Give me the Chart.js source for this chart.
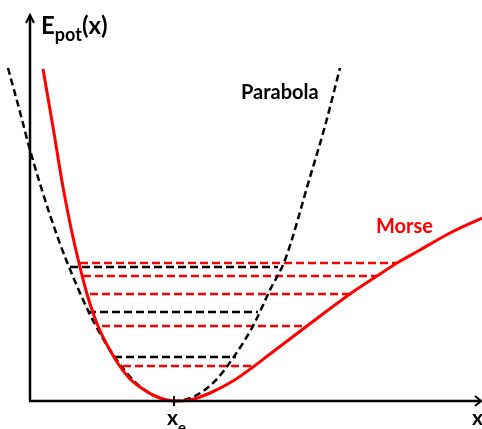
<!doctype html>
<html lang="en">
<head>
<meta charset="utf-8">
<title>Morse potential and harmonic parabola</title>
<style>
  * { margin: 0; padding: 0; }
  body { background: #fff; }
  canvas { display: block; }
</style>
</head>
<body>
<canvas id="myChart" width="482" height="429"></canvas>
<script src="https://cdn.jsdelivr.net/npm/chart.js/dist/chart.umd.min.js"></script>
<script>
// equilibrium distance
const xe = 1.44;

// harmonic potential (black dashed)
const parabolaX = [-0.22, -0.10, 0.00, 0.20, 0.37, 0.68, 1.03, 1.25, 1.44, 1.65, 1.85, 2.03, 2.23, 2.40, 2.55, 2.80, 2.95, 3.10];
const parabolaE = [3.33, 2.89, 2.51, 1.86, 1.39, 0.71, 0.21, 0.05, 0.00, 0.05, 0.20, 0.43, 0.75, 1.11, 1.41, 2.24, 2.75, 3.33];

// Morse potential (red)
const morseX = [0.13, 0.23, 0.33, 0.41, 0.49, 0.57, 0.68, 0.87, 1.00, 1.10, 1.25, 1.45, 1.60, 1.80, 2.03, 2.23, 2.40, 2.77, 3.20, 3.47, 3.67, 3.90, 4.20, 4.52];
const morseE = [3.32, 2.74, 2.14, 1.73, 1.38, 1.07, 0.75, 0.39, 0.22, 0.14, 0.05, 0.00, 0.01, 0.08, 0.20, 0.34, 0.47, 0.75, 1.07, 1.25, 1.38, 1.51, 1.68, 1.83];

// vibrational levels: energy, left turning point, right turning point
const harmLevels = [0.44, 0.89, 1.34];
const harmLeft = [0.84, 0.58, 0.40];
const harmRight = [2.06, 2.28, 2.48];

const morseLevels = [0.35, 0.75, 1.07, 1.25, 1.38];
const morseLeft = [0.93, 0.72, 0.60, 0.53, 0.50];
const morseRight = [2.25, 2.77, 3.20, 3.47, 3.67];

const RED = '#ff0000';
const FONT = 'Lato, "Open Sans", sans-serif';

const toPoints = (xs, ys) => xs.map((v, i) => ({x: v, y: ys[i]}));

function levelSets(levels, left, right, color) {
  return levels.map((e, i) => ({
    data: [{x: left[i], y: e}, {x: right[i], y: e}],
    borderColor: color,
    borderWidth: 2.5,
    borderDash: [8, 4],
    pointRadius: 0,
    order: 2
  }));
}

const datasets = [
  {
    label: 'Morse',
    data: toPoints(morseX, morseE),
    borderColor: RED,
    borderWidth: 3,
    pointRadius: 0,
    cubicInterpolationMode: 'monotone',
    order: 0
  },
  {
    label: 'Parabola',
    data: toPoints(parabolaX, parabolaE),
    borderColor: '#000',
    borderWidth: 2.5,
    borderDash: [7, 4],
    pointRadius: 0,
    cubicInterpolationMode: 'monotone',
    order: 1
  },
  ...levelSets(harmLevels, harmLeft, harmRight, '#000'),
  ...levelSets(morseLevels, morseLeft, morseRight, RED)
];

// axes with arrow heads, the x_e tick and all labels
const axesPlugin = {
  id: 'axes',
  afterDatasetsDraw(chart) {
    const {ctx, scales: {x, y}} = chart;
    const x0 = x.getPixelForValue(0);
    const y0 = y.getPixelForValue(0);
    const yTop = y.getPixelForValue(3.86);
    const xEnd = x.getPixelForValue(4.51);

    ctx.save();
    ctx.strokeStyle = '#000';
    ctx.lineWidth = 2.5;
    ctx.beginPath();
    ctx.moveTo(x0, y0);
    ctx.lineTo(x0, yTop);
    ctx.moveTo(x0 - 1, y0);
    ctx.lineTo(xEnd, y0);
    ctx.stroke();

    ctx.lineWidth = 2;
    ctx.beginPath();
    ctx.moveTo(x0 - 4, yTop + 8);
    ctx.lineTo(x0, yTop);
    ctx.lineTo(x0 + 4, yTop + 8);
    ctx.moveTo(xEnd - 6, y0 - 5);
    ctx.lineTo(xEnd, y0);
    ctx.lineTo(xEnd - 6, y0 + 5);
    ctx.stroke();

    const xt = x.getPixelForValue(xe);
    ctx.beginPath();
    ctx.moveTo(xt, y0 - 5);
    ctx.lineTo(xt, y0 + 5);
    ctx.stroke();

    ctx.textBaseline = 'alphabetic';
    ctx.fillStyle = '#000';

    // E_pot(x)
    let px = 41;
    ctx.font = 'bold 24px ' + FONT;
    ctx.fillText('E', px, 34);
    px += ctx.measureText('E').width;
    ctx.font = 'bold 18px ' + FONT;
    ctx.fillText('pot', px, 41);
    px += ctx.measureText('pot').width;
    ctx.font = 'bold 24px ' + FONT;
    ctx.fillText('(x)', px, 34);

    ctx.font = 'bold 20px ' + FONT;
    ctx.fillText('Parabola', 241, 99);

    ctx.fillStyle = RED;
    ctx.fillText('Morse', 376, 233);

    // x_e under the tick and x at the end of the axis
    ctx.fillStyle = '#000';
    ctx.font = 'bold 21px ' + FONT;
    const xw = ctx.measureText('x').width;
    ctx.fillText('x', xt - 7, 425);
    ctx.font = 'bold 15px ' + FONT;
    ctx.fillText('e', xt - 7 + xw, 433);
    ctx.font = 'bold 21px ' + FONT;
    ctx.fillText('x', 472, 425);
    ctx.restore();
  }
};

new Chart(document.getElementById('myChart'), {
  type: 'line',
  data: {datasets},
  options: {
    responsive: false,
    animation: false,
    layout: {padding: 0},
    plugins: {legend: {display: false}, tooltip: {enabled: false}},
    scales: {
      x: {type: 'linear', min: -0.30, max: 4.52, display: false},
      y: {type: 'linear', min: -0.28, max: 4.01, display: false}
    }
  },
  plugins: [axesPlugin]
});
</script>
</body>
</html>
